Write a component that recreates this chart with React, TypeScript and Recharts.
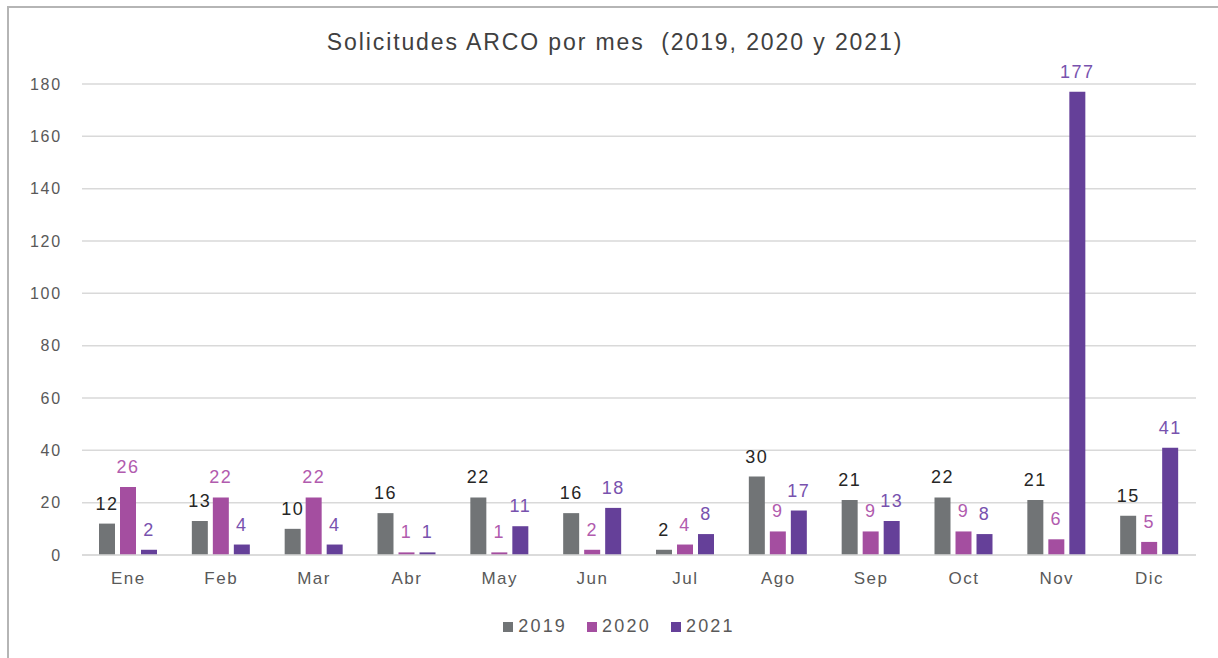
import { BarChart, Bar, XAxis, YAxis, CartesianGrid, Legend, LabelList } from "recharts";

const months = ["Ene", "Feb", "Mar", "Abr", "May", "Jun", "Jul", "Ago", "Sep", "Oct", "Nov", "Dic"];
const y2019 = [12, 13, 10, 16, 22, 16, 2, 30, 21, 22, 21, 15];
const y2020 = [26, 22, 22, 1, 1, 2, 4, 9, 9, 9, 6, 5];
const y2021 = [2, 4, 4, 1, 11, 18, 8, 17, 13, 8, 177, 41];
const yTicks = [0, 20, 40, 60, 80, 100, 120, 140, 160, 180];

const SERIES = [
  { key: "y2019", name: "2019", color: "#717476", label: "#262626" },
  { key: "y2020", name: "2020", color: "#A44EA0", label: "#B15BAE" },
  { key: "y2021", name: "2021", color: "#654099", label: "#7852AE" },
];

const data = months.map((m, i) => ({ month: m, y2019: y2019[i], y2020: y2020[i], y2021: y2021[i] }));

const FONT = "'Liberation Sans', Arial, sans-serif";

function LegendContent() {
  return (
    <div style={{ display: "flex", justifyContent: "center", gap: 20, paddingLeft: 20, fontFamily: FONT }}>
      {SERIES.map((s) => (
        <div key={s.key} style={{ display: "flex", alignItems: "center", gap: 5 }}>
          <div style={{ width: 10, height: 10, background: s.color }} />
          <span style={{ fontSize: 18, letterSpacing: 2.2, color: "#595959" }}>{s.name}</span>
        </div>
      ))}
    </div>
  );
}

export default function App() {
  return (
    <div style={{ position: "fixed", left: 0, top: 0, width: 1218, height: 658, background: "#fff", overflow: "hidden" }}>
      {/* frame: only top and left edges are in view */}
      <div style={{ position: "absolute", left: 7, top: 6, width: 1211, height: 2, background: "#B5B5B5" }} />
      <div style={{ position: "absolute", left: 7, top: 6, width: 2, height: 652, background: "#B5B5B5" }} />
      <div
        style={{
          position: "absolute",
          top: 29,
          left: 0,
          width: 1230,
          textAlign: "center",
          fontFamily: FONT,
          fontSize: 23,
          letterSpacing: 1.9,
          color: "#404040",
        }}
      >
        Solicitudes ARCO por mes&nbsp; (2019, 2020 y 2021)
      </div>
      <div style={{ position: "absolute", left: 0, top: 0 }}>
        <BarChart
          width={1218}
          height={658}
          data={data}
          margin={{ top: 84, right: 22, left: 32, bottom: 42 }}
          barSize={16}
          barGap={5}
        >
          <CartesianGrid vertical={false} stroke="#D9D9D9" strokeWidth={1.5} />
          <XAxis
            dataKey="month"
            axisLine={{ stroke: "#D9D9D9", strokeWidth: 1.5 }}
            tickLine={false}
            tickMargin={11}
            height={40}
            tick={{ fill: "#595959", fontSize: 17, letterSpacing: 1.5, fontFamily: FONT }}
          />
          <YAxis
            width={50}
            domain={[0, 180]}
            ticks={yTicks}
            axisLine={false}
            tickLine={false}
            tickMargin={14}
            tick={{ fill: "#595959", fontSize: 16, letterSpacing: 1.8, fontFamily: FONT }}
          />
          <Legend verticalAlign="bottom" content={<LegendContent />} wrapperStyle={{ top: 616, left: 0, width: 1218 }} />
          {SERIES.map((s) => (
            <Bar key={s.key} dataKey={s.key} name={s.name} fill={s.color} isAnimationActive={false}>
              <LabelList
                dataKey={s.key}
                position="top"
                offset={14}
                fill={s.label}
                fontSize={18}
                letterSpacing={1.5}
                fontFamily={FONT}
              />
            </Bar>
          ))}
        </BarChart>
      </div>
    </div>
  );
}
